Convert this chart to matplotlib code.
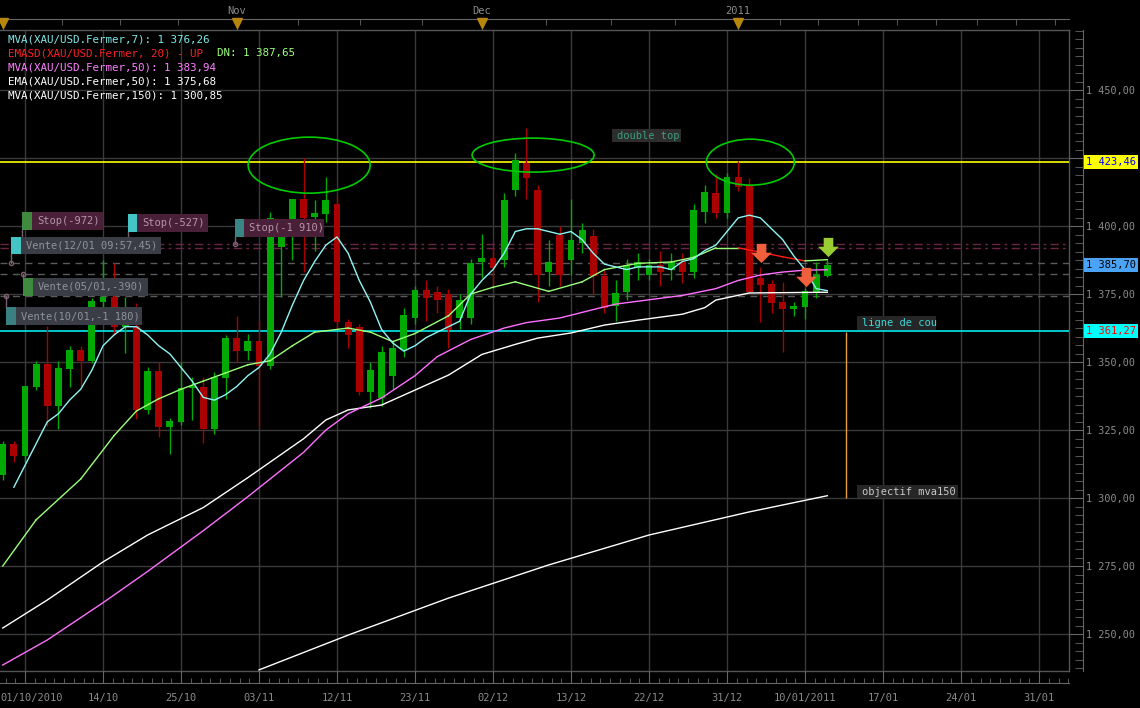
import matplotlib
matplotlib.use('Agg')
import matplotlib.pyplot as plt
import numpy as np
from matplotlib.patches import Rectangle, Ellipse
from matplotlib.ticker import FixedLocator, MultipleLocator, FuncFormatter
from matplotlib.transforms import ScaledTranslation
from matplotlib.path import Path

plt.rcParams['font.family'] = ['DejaVu Sans Mono', 'DejaVu Sans']

# ---------------- data (XAU/USD daily, bar index 0 = first grid line) ----------------
bar_idx = list(range(-2, 73))
opens = [1308.5, 1319.9, 1315.4, 1340.8, 1349.3, 1333.8, 1347.4, 1354.4, 1350.4, 1372.1,
         1373.9, 1362.9, 1363.2, 1332.4, 1346.7, 1326.1, 1327.9, 1340.4, 1340.8, 1325.4,
         1344.1, 1358.8, 1354.0, 1357.7, 1348.5, 1392.3, 1402.2, 1409.9, 1403.3, 1404.4,
         1408.0, 1364.7, 1362.9, 1339.0, 1336.8, 1345.0, 1354.4, 1366.2, 1376.5, 1375.7,
         1375.0, 1366.2, 1366.2, 1386.8, 1388.2, 1387.5, 1413.2, 1423.2, 1413.2, 1383.1,
         1396.7, 1387.5, 1393.8, 1396.3, 1381.6, 1370.6, 1375.7, 1384.6, 1382.0, 1385.7,
         1383.8, 1386.8, 1383.1, 1405.1, 1412.1, 1404.8, 1418.0, 1415.1, 1380.9, 1378.7,
         1372.1, 1369.5, 1370.2, 1375.8, 1381.6]
highs = [1321.0, 1321.0, 1341.2, 1350.4, 1363.2, 1350.4, 1355.9, 1355.9, 1373.5, 1387.5,
         1386.4, 1373.9, 1371.7, 1348.2, 1350.0, 1329.4, 1350.0, 1344.5, 1344.5, 1346.3,
         1359.9, 1366.9, 1360.3, 1365.1, 1405.0, 1398.0, 1410.0, 1425.0, 1409.6, 1418.0,
         1411.0, 1366.0, 1364.0, 1350.0, 1356.0, 1358.0, 1370.0, 1378.0, 1380.0, 1378.0,
         1377.0, 1375.0, 1388.0, 1397.0, 1392.0, 1412.0, 1427.0, 1436.0, 1415.0, 1395.0,
         1400.0, 1410.0, 1401.0, 1399.0, 1384.0, 1380.0, 1388.0, 1390.0, 1388.0, 1391.0,
         1390.0, 1390.0, 1408.0, 1415.0, 1419.0, 1419.5, 1424.0, 1417.6, 1384.9, 1380.0,
         1379.4, 1372.0, 1377.2, 1386.8, 1387.5]
lows = [1306.6, 1313.2, 1313.2, 1339.7, 1326.5, 1325.4, 1340.8, 1341.2, 1349.6, 1370.0,
        1360.0, 1353.3, 1329.0, 1331.0, 1322.4, 1316.2, 1327.0, 1328.7, 1320.2, 1323.5,
        1336.4, 1350.0, 1350.7, 1326.1, 1347.4, 1373.9, 1387.5, 1383.0, 1391.0, 1401.5,
        1362.5, 1355.0, 1338.0, 1333.0, 1334.0, 1340.0, 1352.0, 1364.0, 1365.0, 1368.0,
        1355.0, 1362.0, 1364.0, 1381.0, 1378.0, 1385.0, 1411.0, 1410.0, 1372.0, 1378.0,
        1378.0, 1382.0, 1390.0, 1375.0, 1368.0, 1365.0, 1373.0, 1380.0, 1380.0, 1378.0,
        1380.0, 1379.0, 1381.0, 1401.0, 1403.0, 1403.0, 1413.0, 1375.0, 1364.7, 1368.0,
        1353.7, 1367.0, 1365.8, 1373.5, 1381.3]
closes = [1319.9, 1315.4, 1341.2, 1349.3, 1333.8, 1347.8, 1354.4, 1350.4, 1372.4, 1373.9,
          1362.9, 1366.5, 1332.4, 1346.7, 1326.1, 1328.3, 1340.4, 1341.2, 1325.4, 1344.5,
          1358.8, 1354.0, 1357.7, 1348.5, 1402.9, 1396.0, 1409.9, 1402.9, 1404.8, 1409.6,
          1364.7, 1360.0, 1339.0, 1347.0, 1353.7, 1355.0, 1367.3, 1376.5, 1373.5, 1372.8,
          1361.8, 1372.8, 1386.4, 1388.2, 1384.6, 1409.6, 1424.3, 1417.6, 1382.0, 1386.8,
          1382.0, 1394.9, 1398.5, 1381.6, 1369.9, 1375.4, 1385.7, 1386.8, 1385.7, 1383.1,
          1386.8, 1383.1, 1405.9, 1412.5, 1404.8, 1418.0, 1414.3, 1375.8, 1378.3, 1371.7,
          1369.5, 1370.6, 1376.1, 1382.0, 1385.7]

# MVA(7), one value per bar from -1
mva7_idx = list(range(-1, 73))
mva7 = [1304, 1312, 1320, 1328, 1331, 1336, 1340, 1347, 1356, 1360, 1363, 1363, 1360, 1356,
        1353, 1348, 1343, 1337, 1336, 1338, 1341, 1345, 1348, 1353, 1361, 1371, 1380, 1387,
        1393, 1396, 1390, 1380, 1372, 1362, 1357, 1354, 1356, 1359, 1361, 1363, 1365, 1375,
        1380, 1384, 1390, 1398, 1399, 1399, 1398, 1397, 1398, 1395, 1390, 1386, 1385, 1384,
        1385, 1385, 1385, 1384, 1387, 1388, 1391, 1393, 1398, 1403, 1404, 1403, 1399, 1395,
        1389, 1384, 1377, 1376.26]

# EMASD line (green = DN part, red = UP part)
emasd_idx = [-2, 1, 5, 8, 10, 12, 14, 16, 18, 20, 22, 24, 26, 29, 31, 33, 35, 38, 40, 42,
             44, 47, 50, 52, 55, 58, 60, 62, 64, 66, 68, 70, 72]
emasd = [1275, 1292, 1307, 1323, 1332, 1336.5, 1340, 1343, 1346, 1349, 1350.5, 1356, 1361,
         1362.5, 1361, 1357.5, 1360.5, 1367, 1375, 1377.5, 1379.5, 1376, 1379.5, 1384,
         1386.3, 1386.8, 1388.5, 1392, 1392, 1390.4, 1388.7, 1387.2, 1387.65]
emasd_up_start, emasd_up_end = 64, 70

mva50_idx = [-2, 2, 7, 11, 16, 20, 25, 27, 29, 32, 35, 37, 40, 43, 45, 48, 51, 53, 56, 59,
             62, 64, 66, 68, 70, 72]
mva50 = [1238.6, 1247.8, 1261.5, 1273.0, 1288.0, 1300.5, 1316.8, 1325.0, 1331.0, 1336.8,
         1345.0, 1352.0, 1358.3, 1362.5, 1364.5, 1366.2, 1369.3, 1371.3, 1372.9, 1374.5,
         1377.0, 1380.0, 1382.0, 1383.1, 1383.8, 1383.94]

ema50_idx = [-2, 2, 7, 11, 16, 20, 25, 27, 29, 32, 35, 38, 41, 44, 46, 49, 52, 55, 59, 61,
             62, 65, 72]
ema50 = [1252.2, 1262.5, 1276.5, 1286.4, 1296.5, 1307.5, 1321.8, 1328.7, 1332.4, 1334.2,
         1339.7, 1345.2, 1352.8, 1356.5, 1358.8, 1360.7, 1363.6, 1365.4, 1367.6, 1370.0,
         1372.8, 1375.4, 1375.68]

mva150_idx = [21, 29, 38, 47, 56, 65, 72]
mva150 = [1236.8, 1249.6, 1263.2, 1275.4, 1286.4, 1294.9, 1300.85]

level_top = 1423.46      # double top
level_neck = 1361.27     # ligne de cou
last_price = 1385.70
stop_levels = [1393.4, 1391.9]
order_levels = [1386.4, 1382.4, 1374.3]

x_tick_idx = list(range(0, 92, 7))
x_tick_labels = ['01/10/2010', '14/10', '25/10', '03/11', '12/11', '23/11', '02/12',
                 '13/12', '22/12', '31/12', '10/01/2011', '17/01', '24/01', '31/01']
month_idx = [-2, 19, 41, 64]
month_labels = ['', 'Nov', 'Dec', '2011']
week_idx = [-1.9, 3.3, 8.5, 13.7, 18.9, 24.5, 30.1, 35.6, 41.0, 46.8, 52.6, 58.3, 64.2,
            67.8, 71.2, 74.8, 78.3, 81.8, 85.4, 88.9, 92.4]

legend_lines = [
    ('MVA(XAU/USD.Fermer,7): 1 376,26', '#7fe9e9'),
    ('EMASD(XAU/USD.Fermer, 20) - UP', '#ff2020'),
    ('MVA(XAU/USD.Fermer,50): 1 383,94', '#ff80ff'),
    ('EMA(XAU/USD.Fermer,50): 1 375,68', '#ffffff'),
    ('MVA(XAU/USD.Fermer,150): 1 300,85', '#ffffff'),
]

GREEN = '#00aa00'
RED = '#aa0000'
GRID = '#3a3a3a'
AXC = '#666666'
TXT = '#8c8c8c'
PT = 0.72  # points per pixel at dpi 100

box_values = [level_top, last_price, level_neck]


def fmt_price(v, pos=None):
    return f'{v:,.2f}'.replace(',', ' ').replace('.', ',')


def fmt_axis(v, pos=None):
    # the value boxes on the price scale hide the labels under them
    if any(abs(v - b) < 4 for b in box_values):
        return ''
    return fmt_price(v)


fig = plt.figure(figsize=(11.4, 7.08), dpi=100, facecolor='black')
ax = fig.add_axes([0, 37 / 708, 1069 / 1140, 641 / 708])
ax.set_facecolor('black')
dx = 78 / 7  # pixels per bar
ax.set_xlim(-25 / dx, (1069 - 25) / dx)
ax.set_ylim(1236.4, 1472.1)

# grid
for v in range(1250, 1451, 25):
    ax.axhline(v, color=GRID, lw=1, zorder=0)
for t in x_tick_idx:
    ax.axvline(t, color=GRID, lw=1, zorder=0)

# frame of plot area
for xs, ys in [([1, 1], [0, 1]), ([0, 1], [0, 0]), ([0, 1], [1, 1])]:
    ax.plot(xs, ys, transform=ax.transAxes, color='#555555', lw=1, clip_on=False, zorder=1)

# level lines
ax.axhline(level_top, color='#ffff00', lw=1.2, zorder=2)
ax.axhline(level_neck, color='#00e8ee', lw=1.2, zorder=2)
for lv in stop_levels:
    ax.axhline(lv, color='#6a2444', lw=1, ls=(0, (6, 3, 2, 3)), zorder=2)
for lv in order_levels:
    ax.axhline(lv, color='#5a5a5a', lw=1, ls=(0, (5, 4)), zorder=2)

# candles
o = np.array(opens)
c = np.array(closes)
col = np.where(c >= o, GREEN, RED)
ax.vlines(bar_idx, lows, highs, colors=col, lw=1, zorder=3)
ax.bar(bar_idx, np.maximum(np.abs(c - o), 0.5), bottom=np.minimum(o, c), width=0.62,
       color=col, linewidth=0, zorder=4)

# indicators
ax.plot(mva150_idx, mva150, color='#ffffff', lw=1, zorder=5)
ax.plot(ema50_idx, ema50, color='#ffffff', lw=1, zorder=5)
ax.plot(mva50_idx, mva50, color='#ff70ff', lw=1, zorder=5)
ei = np.array(emasd_idx)
ev = np.array(emasd)
for a in range(len(ei) - 1):
    seg_col = '#ff1a1a' if emasd_up_start <= ei[a] < emasd_up_end else '#9cff7a'
    ax.plot(ei[a:a + 2], ev[a:a + 2], color=seg_col, lw=1, zorder=5)
ax.plot(mva7_idx, mva7, color='#8ff5f5', lw=1, zorder=6)

# ellipses around the three tops
for cx, cy, w, h in [(25.5, 1422.4, 10.95, 20.6), (45.6, 1426.1, 10.95, 12.5),
                     (65.1, 1423.5, 7.9, 16.9)]:
    ax.add_patch(Ellipse((cx, cy), w, h, fill=False, ec='#00cc00', lw=1.2, zorder=7))

# arrows
arrow = Path([(-0.3, 0.6), (0.3, 0.6), (0.3, 0.05), (0.65, 0.05), (0, -0.6), (-0.65, 0.05),
              (-0.3, 0.05), (-0.3, 0.6)], closed=True)
for ai, ap, acol in [(66.05, 1390.1, '#f0603c'), (70.1, 1381.3, '#f0603c'),
                     (72.05, 1392.3, '#9acd32')]:
    ax.plot([ai], [ap], marker=arrow, ms=15, color=acol, mec='none', zorder=8)

# order tags
tags = [
    (-0.27, 0.63, 7.0, 1405.1, 1398.5, 'Stop(-972)', '#3f8a3f', '#4a1f38', '#b596aa', 1393.4),
    (9.24, 10.05, 16.42, 1404.4, 1397.8, 'Stop(-527)', '#44c4c4', '#4a1f38', '#b596aa', 1391.9),
    (18.85, 19.65, 26.83, 1402.6, 1396.0, 'Stop(-1 910)', '#3a8585', '#4a1f38', '#b596aa', 1393.4),
    (-1.26, -0.36, 12.2, 1396.0, 1389.7, 'Vente(12/01 09:57,45)', '#44c4c4', '#3a3d45', '#8e929a', 1386.4),
    (-0.18, 0.72, 11.04, 1380.9, 1374.3, 'Vente(05/01,-390)', '#3f8a3f', '#3a3d45', '#8e929a', 1382.4),
    (-1.7, -0.81, 10.5, 1370.2, 1363.6, 'Vente(10/01,-1 180)', '#3a8080', '#3a3d45', '#8e929a', 1374.3),
]
for sq, bl, br, top, bot, txt, sqc, bc, tc, lvl in tags:
    y0 = bot if lvl < bot else top
    ax.plot([sq, sq], [y0, lvl], color='#7a6070', lw=1, zorder=8)
    ax.plot([sq], [lvl], marker='o', ms=3, mfc='none', mec='#7a6070', zorder=8)
    ax.add_patch(Rectangle((sq, bot), bl - sq, top - bot, fc=sqc, ec='none', zorder=9))
    ax.add_patch(Rectangle((bl, bot), br - bl, top - bot, fc=bc, ec='none', zorder=9))
    ax.text(bl + 0.45, (top + bot) / 2, txt, color=tc, fontsize=7.5, va='center', ha='left',
            zorder=10)

# text notes
notes = [(52.7, 58.9, 1435.7, 1430.9, 'double top', '#2e2e2e', '#3aa07a'),
         (74.7, 81.8, 1366.9, 1361.8, 'ligne de cou', '#262626', '#40d8d8'),
         (74.7, 83.7, 1304.8, 1300.0, 'objectif mva150', '#262626', '#c8c8c8')]
for l, r, top, bot, txt, bc, tc in notes:
    ax.add_patch(Rectangle((l, bot), r - l, top - bot, fc=bc, ec='none', zorder=9))
    ax.text(l + 0.4, (top + bot) / 2, txt, color=tc, fontsize=7.5, va='center', ha='left',
            zorder=10)
ax.vlines(73.7, 1300.0, 1361.0, color='#e8a040', lw=1, zorder=8)

# legend texts
for k, (txt, tc) in enumerate(legend_lines):
    ax.text(8 / 1069, (671 - 39 - 14 * k) / 641, txt, transform=ax.transAxes, color=tc,
            fontsize=7.8, va='center', ha='left', zorder=10)
ax.text(217 / 1069, (671 - 53) / 641, 'DN: 1 387,65', transform=ax.transAxes,
        color='#9cff7a', fontsize=7.8, va='center', ha='left', zorder=10)

# axes: right price scale
ax.spines['left'].set_visible(False)
ax.spines['top'].set_visible(False)
ax.spines['right'].set_position(('outward', 14 * PT))
ax.spines['bottom'].set_position(('outward', 12 * PT))
for s in ['right', 'bottom']:
    ax.spines[s].set_color(AXC)
ax.yaxis.tick_right()
ax.yaxis.set_major_locator(MultipleLocator(25))
ax.yaxis.set_minor_locator(MultipleLocator(3.125))
ax.yaxis.set_major_formatter(FuncFormatter(fmt_axis))
ax.tick_params(axis='y', which='major', direction='in', length=14 * PT, color=AXC,
               labelcolor=TXT, labelsize=7.3, pad=2)
ax.tick_params(axis='y', which='minor', direction='in', length=8 * PT, color=AXC)

ax.xaxis.set_major_locator(FixedLocator(x_tick_idx))
ax.xaxis.set_minor_locator(MultipleLocator(7 / 8))
ax.set_xticklabels(x_tick_labels)
ax.tick_params(axis='x', which='major', direction='in', length=12 * PT, color=AXC,
               labelcolor=TXT, labelsize=7.5, pad=7)
ax.tick_params(axis='x', which='minor', direction='in', length=5 * PT, color=AXC)
first = ax.get_xticklabels()[0]
first.set_transform(first.get_transform() + ScaledTranslation(7 / 100, 0, fig.dpi_scale_trans))

# top month scale
top = ax.secondary_xaxis('top')
top.spines['top'].set_position(('outward', 11 * PT))
top.spines['top'].set_color(AXC)
top.xaxis.set_major_locator(FixedLocator(month_idx))
top.set_xticklabels(month_labels)
top.xaxis.set_minor_locator(FixedLocator(week_idx))
top.tick_params(axis='x', which='major', direction='in', length=11 * PT, color=AXC,
                labelcolor=TXT, labelsize=7.5, pad=2)
top.tick_params(axis='x', which='minor', direction='in', length=6 * PT, color=AXC)
ax.plot(month_idx, [1.011] * len(month_idx), transform=ax.get_xaxis_transform(),
        marker='v', ms=7, color='#b8860b', ls='none', clip_on=False, zorder=10)

# current value boxes on price axis
for val, fc, tc in [(level_top, '#ffff00', '#0000ff'), (last_price, '#4aa3f5', '#000000'),
                    (level_neck, '#00ffff', '#ff0000')]:
    ax.text(1086 / 1069, val, fmt_price(val), transform=ax.get_yaxis_transform(),
            color=tc, fontsize=7.5, va='center', ha='left', zorder=11, clip_on=False,
            bbox=dict(boxstyle='square,pad=0.2', fc=fc, ec='none'))

fig.savefig('out.png', dpi=100, facecolor='black')
